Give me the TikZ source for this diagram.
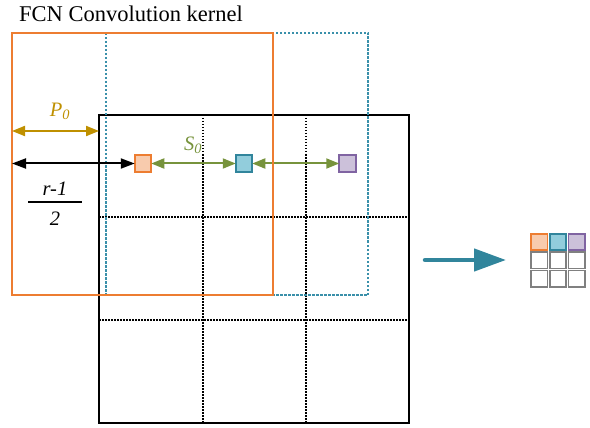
\documentclass[tikz,border=0pt]{standalone}
\usepackage{fontspec}
\setmainfont{Liberation Serif}
\usetikzlibrary{arrows.meta}
\definecolor{korange}{HTML}{ED7D31}
\definecolor{korangefill}{HTML}{F8CBAD}
\definecolor{kblue}{HTML}{31859C}
\definecolor{kbluefill}{HTML}{92CDDC}
\definecolor{kdot}{HTML}{3A90AA}
\definecolor{kpurple}{HTML}{8064A2}
\definecolor{kpurplefill}{HTML}{CCC1DA}
\definecolor{kgold}{HTML}{BF9000}
\definecolor{kgreen}{HTML}{77933C}
\definecolor{kgray}{HTML}{808080}
\begin{document}
\begin{tikzpicture}[x=1pt,y=-1pt,
  cell/.style={draw, line width=1.6pt, minimum size=16.5pt, inner sep=0pt, outer sep=0pt},
  gridline/.style={line width=1.2pt, dash pattern=on 1.5pt off 1.5pt},
  dimarrow/.style={line width=2pt, {Triangle[length=13pt,width=10pt]}-{Triangle[length=13pt,width=10pt]}},
  lbl/.style={font=\fontsize{20.5}{24}\selectfont\itshape, inner sep=0pt}
]
\useasboundingbox (0,0) rectangle (590,428);

% title
\node[anchor=base west, inner sep=0pt, font=\fontsize{22.5}{26}\selectfont] (title) at (19,22) {FCN Convolution kernel};

% input feature map with its 3x3 dotted subdivision
\draw[gridline] (203,115) -- (203,423) (306,115) -- (306,423)
                (99,217) -- (409,217) (99,320) -- (409,320);
\draw[line width=1.8pt] (99,115) rectangle (409,423);

% shifted receptive field (dotted)
\draw[kdot, line width=2pt, dash pattern=on 2.5pt off 1.5pt] (106,33) rectangle (368,295);

% kernel centres
\node[cell, draw=korange, fill=korangefill] (c1) at (143,163.5) {};
\node[cell, draw=kblue, fill=kbluefill] (c2) at (244,163.5) {};
\node[cell, draw=kpurple, fill=kpurplefill] (c3) at (347.5,163.5) {};

% stride arrows
\draw[dimarrow, kgreen] (c1.east) -- (c2.west);
\draw[dimarrow, kgreen] (c2.east) -- (c3.west);
\node[lbl, text=kgreen] (s0) at (193,145) {S\textsubscript{0}};

% first receptive field
\draw[korange, line width=1.8pt] (12,33) rectangle (273,295);

% padding and half-field arrows
\coordinate (padL) at (12,131);
\coordinate (padR) at (99,131);
\coordinate (halfL) at (12,163.5);
\draw[dimarrow, kgold] (padL) -- (padR);
\node[lbl, text=kgold] (p0) at (60,111) {P\textsubscript{0}};
\draw[dimarrow, black, line width=2pt, {Triangle[length=14pt,width=10pt]}-{Triangle[length=14pt,width=10pt]}] (halfL) -- (c1.west);

\node[lbl] (num) at (55,189) {r-1};
\draw[line width=1.4pt] (28,202) -- (82,202);
\node[lbl] (den) at (55,219) {2};

% output arrow
\coordinate (outA) at (425,260);
\coordinate (outB) at (506,260);
\draw[kblue, line width=4.5pt, line cap=round, -{Triangle[length=32pt,width=22pt]}] (outA) -- (outB);

% output map
\foreach \r in {1,2} \foreach \c in {0,1,2} {
  \node[cell, draw=kgray] (o\r\c) at ({539.3+18.7*\c},{242+18.4*\r}) {};
}
\node[cell, draw=korange, fill=korangefill] (o00) at (539.3,242) {};
\node[cell, draw=kblue, fill=kbluefill] (o01) at (558,242) {};
\node[cell, draw=kpurple, fill=kpurplefill] (o02) at (576.7,242) {};
\end{tikzpicture}
\end{document}
